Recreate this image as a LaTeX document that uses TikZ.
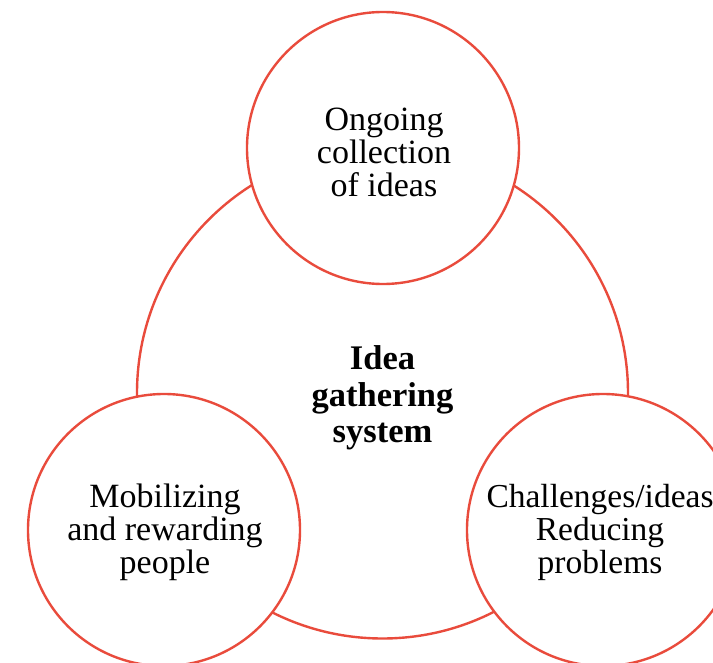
\documentclass[tikz,border=0pt]{standalone}
\usepackage{fontspec}
\setmainfont{Liberation Serif}
\definecolor{ringred}{HTML}{E94B3C}
\begin{document}
\begin{tikzpicture}[x=1pt,y=-1pt,
  ring/.style={circle,draw=ringred,line width=2.4pt,fill=white,minimum size=272pt,inner sep=0pt},
  big/.style={circle,draw=ringred,line width=2.4pt,fill=white,minimum size=491pt,inner sep=0pt},
  lbl/.style={align=center,font=\fontsize{34}{33}\selectfont},
  blbl/.style={align=center,font=\fontsize{34.5}{36.5}\selectfont\bfseries}]
\useasboundingbox (0,0) rectangle (713,663);
\node[big] (sys) at (382.5,393) {};
\node[ring] (top) at (383,148) {};
\node[ring] (left) at (164,530) {};
\node[ring] (right) at (603,530) {};
\node[blbl] (systxt) at (382.5,398) {Idea\\gathering\\system};
\node[lbl] (toptxt) at (384,152) {Ongoing\\collection\\of ideas};
\node[lbl] (lefttxt) at (165,532) {Mobilizing\\and rewarding\\people};
\node[lbl,font=\fontsize{33.5}{33}\selectfont] (righttxt) at (600,532) {Challenges/ideas\\Reducing\\problems};
\end{tikzpicture}
\end{document}
